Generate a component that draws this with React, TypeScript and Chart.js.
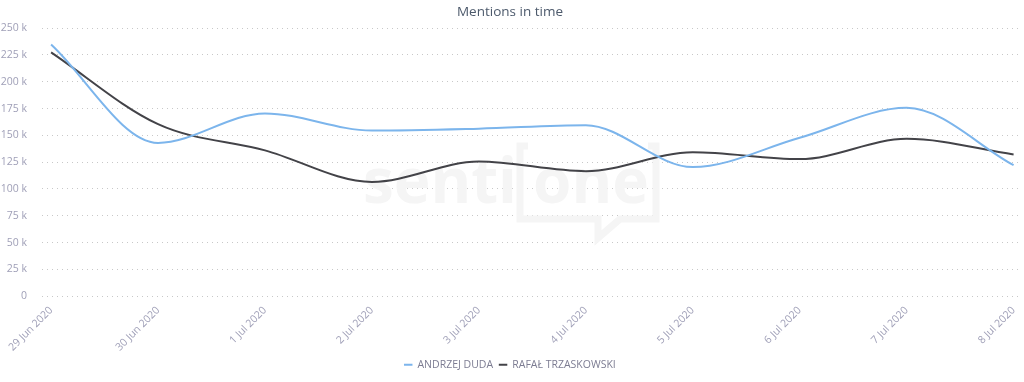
import React, { useEffect, useRef } from "react";
import { Chart, registerables } from "chart.js";

Chart.register(...registerables);

const categories = [
  "29 Jun 2020",
  "30 Jun 2020",
  "1 Jul 2020",
  "2 Jul 2020",
  "3 Jul 2020",
  "4 Jul 2020",
  "5 Jul 2020",
  "6 Jul 2020",
  "7 Jul 2020",
  "8 Jul 2020",
];
const dudaValues = [234800, 143000, 170500, 154500, 156300, 159500, 120400, 147800, 175700, 122200];
const trzaskowskiValues = [227500, 160500, 136000, 106600, 125600, 116600, 134300, 127900, 146800, 132200];
const yTicks = [0, 25000, 50000, 75000, 100000, 125000, 150000, 175000, 200000, 225000, 250000];

const FONT = "'Open Sans', sans-serif";
const TICK_COLOR = "#9f9fb7";

const watermark = {
  id: "watermark",
  beforeDatasetsDraw(chart: any) {
    const c = chart.ctx;
    c.save();
    c.fillStyle = "#f5f5f5";
    c.strokeStyle = "#f5f5f5";
    c.font = "bold 62px 'Open Sans', sans-serif";
    c.textBaseline = "alphabetic";
    c.textAlign = "left";
    c.fillText("senti", 363, 203);
    c.fillText("one", 533, 203);
    c.lineWidth = 7;
    c.beginPath();
    c.moveTo(528, 146);
    c.lineTo(520, 146);
    c.lineTo(520, 219);
    c.lineTo(598, 219);
    c.lineTo(598, 238);
    c.lineTo(620, 219);
    c.lineTo(656, 219);
    c.lineTo(656, 146);
    c.lineTo(648, 146);
    c.stroke();
    c.restore();
  },
};

export default function App() {
  const ref = useRef<HTMLCanvasElement | null>(null);
  useEffect(() => {
    document.body.style.margin = "0";
    const ctx = ref.current!;
    const chart = new Chart(ctx, {
      type: "line",
      data: {
        datasets: [
          {
            label: "ANDRZEJ DUDA",
            data: dudaValues.map((v, i) => ({ x: i, y: v })),
            borderColor: "#7cb5ec",
            backgroundColor: "#7cb5ec",
            borderWidth: 2,
            pointRadius: 0,
            cubicInterpolationMode: "monotone",
            fill: false,
          },
          {
            label: "RAFAŁ TRZASKOWSKI",
            data: trzaskowskiValues.map((v, i) => ({ x: i, y: v })),
            borderColor: "#434348",
            backgroundColor: "#434348",
            borderWidth: 2,
            pointRadius: 0,
            cubicInterpolationMode: "monotone",
            fill: false,
          },
        ],
      },
      plugins: [watermark],
      options: {
        animation: false,
        responsive: false,
        maintainAspectRatio: false,
        layout: { padding: { left: 0, right: 4, top: 0, bottom: 2 } },
        plugins: {
          title: {
            display: true,
            text: "Mentions in time",
            color: "#4d5a6c",
            font: { family: FONT, size: 13.5, weight: "normal" },
            padding: { top: 4, bottom: 8 },
          },
          legend: {
            position: "bottom",
            labels: {
              usePointStyle: true,
              pointStyle: "line",
              boxWidth: 8,
              boxHeight: 6,
              color: "#7c7c92",
              font: { family: FONT, size: 10.5 },
              padding: 6,
            },
          },
          tooltip: { enabled: false },
        },
        scales: {
          x: {
            type: "linear",
            min: -0.085,
            max: 9.06,
            grid: { display: false },
            border: { display: false },
            ticks: {
              stepSize: 1,
              includeBounds: false,
              autoSkip: false,
              minRotation: 45,
              maxRotation: 45,
              color: TICK_COLOR,
              font: { family: FONT, size: 10.5 },
              padding: 0,
              callback: (v: any) => {
                const n = Number(v);
                return Number.isInteger(n) && categories[n] ? categories[n] : "";
              },
            },
          },
          y: {
            min: 0,
            max: 250000,
            afterFit: (s: any) => {
              s.width = 42;
            },
            afterBuildTicks: (s: any) => {
              s.ticks = yTicks.map((v) => ({ value: v }));
            },
            grid: {
              color: "#c8c8c8",
              lineWidth: 1,
              drawTicks: false,
            },
            border: { display: false, dash: [1, 4] },
            ticks: {
              padding: 15,
              color: TICK_COLOR,
              font: { family: FONT, size: 10.5 },
              callback: (v: any) => (Number(v) === 0 ? "0" : Number(v) / 1000 + " k"),
            },
          },
        },
      },
    });
    return () => chart.destroy();
  }, []);
  return (
    <div style={{ width: 1024, height: 382, background: "#fff" }}>
      <canvas ref={ref} width={1024} height={382} style={{ display: "block" }} />
    </div>
  );
}
